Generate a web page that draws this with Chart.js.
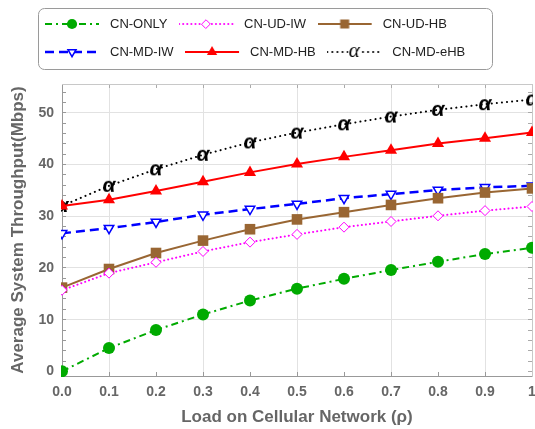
<!DOCTYPE html>
<html lang="en">
<head>
  <meta charset="UTF-8" />
  <title>Average System Throughput</title>
  <script src="https://cdn.jsdelivr.net/npm/chart.js"></script>
  <style>
    body { margin: 0; background: #fff; }
  </style>
</head>
<body>
<canvas id="chart" width="535" height="429"></canvas>

<script>
  // load on the cellular network (rho)
  const loads = [0, 0.1, 0.2, 0.3, 0.4, 0.5, 0.6, 0.7, 0.8, 0.9, 1];
  const xTickLabels = ['0.0', '0.1', '0.2', '0.3', '0.4', '0.5', '0.6', '0.7', '0.8', '0.9', '1'];
  const yTickValues = [0, 10, 20, 30, 40, 50];
  const yTickLabels = ['0', '10', '20', '30', '40', '50'];

  // average system throughput (Mbps)
  const cnOnly  = [0.0, 4.5, 8.0, 11.0, 13.7, 16.0, 17.9, 19.6, 21.2, 22.7, 23.9];
  const cnUdIw  = [15.7, 19.0, 21.1, 23.2, 25.0, 26.5, 27.9, 29.0, 30.1, 31.1, 31.9];
  const cnUdHb  = [16.2, 19.8, 22.9, 25.3, 27.5, 29.4, 30.8, 32.2, 33.5, 34.6, 35.4];
  const cnMdIw  = [26.7, 27.7, 28.9, 30.3, 31.4, 32.4, 33.5, 34.3, 35.1, 35.6, 35.9];
  const cnMdHb  = [32.0, 33.2, 34.9, 36.7, 38.5, 40.1, 41.5, 42.8, 44.1, 45.1, 46.2];
  const cnMdEhb = [32.0, 35.9, 39.1, 41.9, 44.3, 46.2, 47.8, 49.3, 50.6, 51.7, 52.6];

  const seriesLabels = ['CN-ONLY', 'CN-UD-IW', 'CN-UD-HB', 'CN-MD-IW', 'CN-MD-HB', 'CN-MD-eHB'];
  const seriesValues = [cnOnly, cnUdIw, cnUdHb, cnMdIw, cnMdHb, cnMdEhb];

  const FONT = '"Liberation Sans", Arial, sans-serif';
  Chart.defaults.font.family = FONT;

  // italic alpha used as the marker of the eHB curve
  function alphaMark(font) {
    const c = document.createElement('canvas');
    c.width = c.height = 26;
    const g = c.getContext('2d');
    g.font = font;
    g.fillStyle = '#000';
    g.textAlign = 'center';
    const m = g.measureText('α');
    g.fillText('α', c.width / 2, c.height / 2 + (m.actualBoundingBoxAscent - m.actualBoundingBoxDescent) / 2);
    return c;
  }

  const styles = [
    { color: '#00aa00', width: 2,   dash: [7, 4, 2, 4], cap: 'butt',  point: 'circle',   radius: 6,   fill: '#00aa00', bw: 0 },
    { color: '#ff00ff', width: 2,   dash: [0.1, 4],     cap: 'round', point: 'rectRot',  radius: 5,   fill: '#ffffff', bw: 1 },
    { color: '#996633', width: 2,   dash: [],           cap: 'butt',  point: 'rect',     radius: 7.5, fill: '#996633', bw: 0 },
    { color: '#0000ff', width: 2.5, dash: [9, 5],       cap: 'butt',  point: 'triangle', radius: 5.5, fill: '#ffffff', bw: 1.5, rot: 180 },
    { color: '#ff0000', width: 2,   dash: [],           cap: 'butt',  point: 'triangle', radius: 7,   fill: '#ff0000', bw: 0 },
    { color: '#000000', width: 2,   dash: [0.1, 5],     cap: 'round', point: alphaMark('bold italic 21px "Liberation Sans", Arial, sans-serif'), radius: 6, fill: '#000', bw: 0 }
  ];

  // small line + marker picture for the legend
  function legendSample(s, i) {
    const c = document.createElement('canvas');
    c.width = 62; c.height = 22;
    const g = c.getContext('2d');
    g.strokeStyle = s.color;
    g.lineWidth = s.width;
    g.lineCap = s.cap;
    g.setLineDash(s.dash);
    g.beginPath(); g.moveTo(0, 11); g.lineTo(54, 11); g.stroke();
    g.setLineDash([]);
    g.fillStyle = s.fill;
    g.lineWidth = s.bw || 0.001;
    let style = s.point;
    if (i === 5) {
      style = alphaMark('italic 21px "Liberation Serif", "DejaVu Serif", serif');
      g.fillStyle = '#fff'; g.fillRect(21, 3, 12, 16);
    }
    Chart.helpers.drawPoint(g, { pointStyle: style, radius: s.radius * 0.85, rotation: s.rot || 0, borderWidth: s.bw }, 27, 11);
    return c;
  }
  const legendSamples = styles.map(legendSample);

  const datasets = seriesValues.map((vals, i) => {
    const s = styles[i];
    return {
      label: seriesLabels[i],
      data: vals.map((v, k) => ({ x: loads[k], y: v })),
      clip: 1,
      borderColor: s.color,
      borderWidth: s.width,
      borderDash: s.dash,
      borderCapStyle: s.cap,
      tension: 0,
      pointStyle: s.point,
      pointRadius: s.radius,
      pointRotation: s.rot || 0,
      pointBackgroundColor: s.fill,
      pointBorderColor: s.color,
      pointBorderWidth: s.bw
    };
  });

  // legend placed like the framed box of the original, rows left aligned
  const legendPlace = {
    id: 'legendPlace',
    afterInit(chart) {
      const lg = chart.legend;
      const fit = lg.fit;
      lg.fit = function () { fit.call(this); this.height = 84; };
    },
    afterLayout(chart) {
      chart.legend.left = 33.5;
      chart.legend.top = 2.5;
    },
    afterDraw(chart) {
      const lg = chart.legend;
      const pad = 15;
      const x0 = lg.left + pad - 10.5, y0 = lg.top + 5.5;
      const x1 = lg.left + Math.max(...lg.lineWidths) + 27, y1 = y0 + 61;
      const ctx = chart.ctx;
      ctx.save();
      ctx.strokeStyle = '#9a9a9a';
      ctx.lineWidth = 1;
      ctx.beginPath();
      ctx.roundRect(Math.round(x0) + 0.5, Math.round(y0) + 0.5, Math.round(x1 - x0), Math.round(y1 - y0), 6);
      ctx.stroke();
      ctx.restore();
    }
  };

  const noPad = s => { s.paddingLeft = 0; s.paddingRight = 0; s.paddingTop = 0; s.paddingBottom = 0; };
  const tickFont = { size: 14, weight: 'bold' };
  const titleFont = { size: 17, weight: 'bold' };

  new Chart(document.getElementById('chart'), {
    type: 'line',
    data: { datasets },
    options: {
      responsive: false,
      animation: false,
      events: [],
      layout: { autoPadding: false, padding: { left: 0, right: 3, top: 0, bottom: 0 } },
      plugins: {
        tooltip: { enabled: false },
        legend: {
          position: 'top',
          align: 'start',
          labels: {
            usePointStyle: true,
            pointStyleWidth: 55,
            padding: 15,
            color: '#222',
            font: { size: 13 },
            generateLabels: chart => chart.data.datasets.map((ds, i) => ({
              text: ds.label,
              fontColor: '#222',
              pointStyle: legendSamples[i],
              hidden: false,
              datasetIndex: i,
              lineWidth: 0,
              strokeStyle: 'transparent',
              fillStyle: 'transparent'
            }))
          }
        }
      },
      scales: {
        x: {
          type: 'linear',
          min: 0,
          max: 1,
          border: { color: '#999', width: 1 },
          grid: {
            color: c => (c.tick && Math.round(c.tick.value * 10) % 2 === 1) ? '#e2e2e2' : 'rgba(0,0,0,0)',
            tickColor: '#999',
            tickLength: -4
          },
          ticks: {
            stepSize: 0.1,
            autoSkip: false,
            maxRotation: 0,
            padding: 12,
            color: '#666',
            font: tickFont,
            callback: v => xTickLabels[Math.round(v * 10)]
          },
          title: {
            display: true,
            text: 'Load on Cellular Network (ρ)',
            color: '#666',
            font: titleFont,
            padding: { top: 0, bottom: 1 }
          },
          afterFit: s => { s.height = 53; noPad(s); }
        },
        y: {
          type: 'linear',
          min: -0.9,
          max: 55.6,
          border: { color: '#999', width: 1 },
          grid: {
            color: c => (c.tick && c.tick.value % 10 === 0 && c.tick.value > 0) ? '#e2e2e2' : 'rgba(0,0,0,0)',
            tickColor: '#999',
            tickLength: -4
          },
          ticks: {
            stepSize: 2,
            includeBounds: false,
            autoSkip: false,
            padding: 12,
            color: '#666',
            font: tickFont,
            callback: v => {
              const k = yTickValues.indexOf(v);
              return k < 0 ? '' : yTickLabels[k];
            }
          },
          title: {
            display: true,
            text: 'Average System Throughput(Mbps)',
            color: '#666',
            font: titleFont,
            padding: { top: 8, bottom: 0 }
          },
          afterFit: s => { s.width = 62; noPad(s); }
        },
        x2: {
          type: 'linear',
          position: 'top',
          min: 0,
          max: 1,
          border: { color: '#c8c8c8', width: 1 },
          grid: { drawOnChartArea: false, tickColor: '#aaa', tickLength: -4 },
          ticks: { stepSize: 0.1, display: false },
          afterFit: s => { s.height = 0; noPad(s); }
        },
        y2: {
          type: 'linear',
          position: 'right',
          min: -0.9,
          max: 55.6,
          border: { color: '#c8c8c8', width: 1 },
          grid: { drawOnChartArea: false, tickColor: '#aaa', tickLength: -4 },
          ticks: { stepSize: 2, includeBounds: false, display: false },
          afterFit: s => { s.width = 0; noPad(s); }
        }
      }
    },
    plugins: [legendPlace]
  });
</script>
</body>
</html>
